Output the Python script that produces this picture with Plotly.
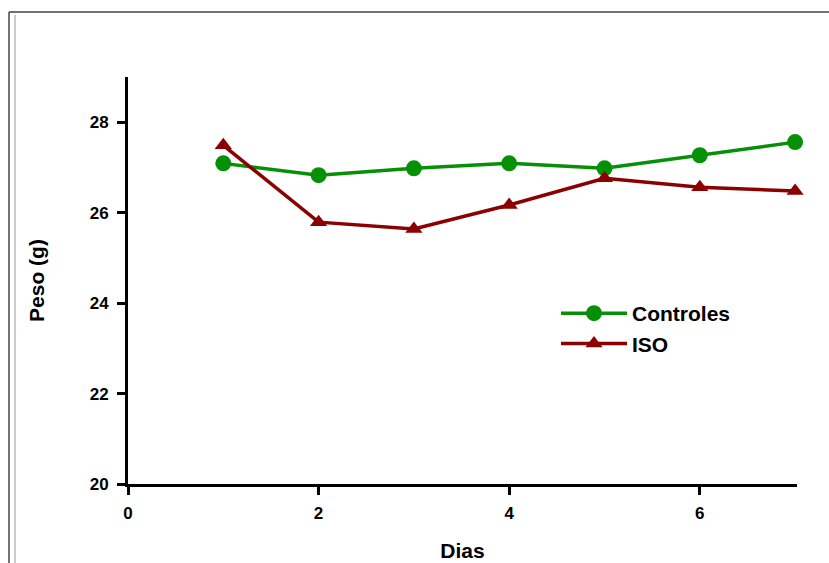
import plotly.graph_objects as go

dias = [1, 2, 3, 4, 5, 6, 7]
controles = [27.09, 26.83, 26.98, 27.09, 26.98, 27.27, 27.56]
iso = [27.49, 25.79, 25.64, 26.17, 26.76, 26.56, 26.48]
x_ticks = [0, 2, 4, 6]
y_ticks = [20, 22, 24, 26, 28]

W, H = 829, 563
L, R, T, B = 128, 32, 77, 79
pw, ph = W - L - R, H - T - B

def px(x):
    return (x - L) / pw

def py(y):
    return (H - B - y) / ph

FAM = "Arial, Liberation Sans"

fig = go.Figure()
fig.add_trace(go.Scatter(
    x=dias, y=controles, mode="lines+markers", name="Controles",
    line=dict(color="#069006", width=3.5),
    marker=dict(symbol="circle", size=16, color="#069006"),
    cliponaxis=False,
))
fig.add_trace(go.Scatter(
    x=dias, y=iso, mode="lines+markers", name="ISO",
    line=dict(color="#8b0000", width=3.5),
    marker=dict(symbol="triangle-up", size=15, color="#8b0000"),
    cliponaxis=False,
))

axis_font = dict(family=FAM, size=17, color="black", weight="bold")
title_font = dict(family=FAM, size=21, color="black", weight="bold")
fig.update_xaxes(
    range=[0, 7.02], tickvals=x_ticks, showgrid=False, zeroline=False,
    showline=True, linecolor="black", linewidth=3,
    ticks="outside", ticklen=8, tickwidth=3, tickcolor="black",
    tickfont=axis_font, automargin=False, ticklabelstandoff=4,
    title=dict(text="Dias", font=title_font, standoff=21),
)
fig.update_yaxes(
    range=[20, 29], tickvals=y_ticks, showgrid=False, zeroline=False,
    showline=True, linecolor="black", linewidth=3,
    ticks="outside", ticklen=8, tickwidth=3, tickcolor="black",
    tickfont=axis_font, automargin=False, ticklabelstandoff=5,
    title=dict(text="Peso (g)", font=title_font, standoff=40),
)

shapes = [
    dict(type="line", xref="paper", yref="paper", x0=px(9), x1=px(829), y0=py(12), y1=py(12),
         line=dict(color="#444444", width=1.5)),
    dict(type="line", xref="paper", yref="paper", x0=px(9), x1=px(9), y0=py(12), y1=py(563),
         line=dict(color="#444444", width=1.5)),
    dict(type="line", xref="paper", yref="paper", x0=px(15), x1=px(15), y0=py(15), y1=py(563),
         line=dict(color="#999999", width=1)),
]

fig.update_layout(
    width=W, height=H,
    margin=dict(l=L, r=R, t=T, b=B, autoexpand=False),
    plot_bgcolor="white", paper_bgcolor="white",
    shapes=shapes,
    showlegend=True,
    legend=dict(
        x=px(556), y=py(293), xanchor="left", yanchor="top",
        font=dict(family=FAM, size=21, color="black", weight="bold"),
        itemwidth=66, tracegroupgap=0, bgcolor="rgba(0,0,0,0)",
    ),
)

fig.write_html("out.html")
